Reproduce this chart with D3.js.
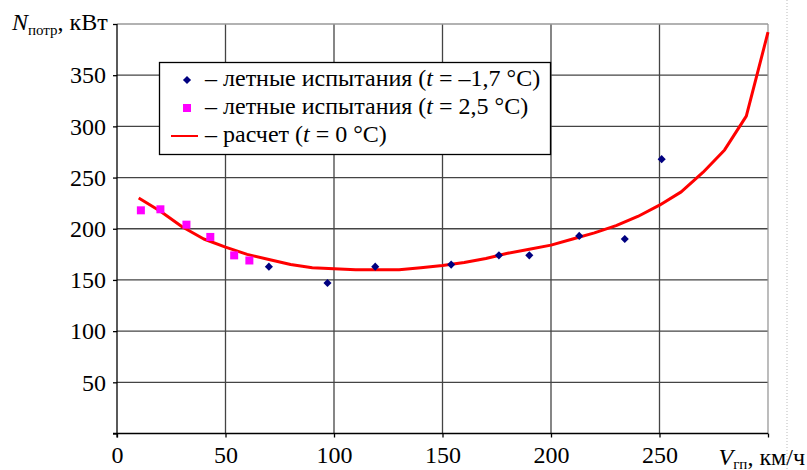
<!DOCTYPE html>
<html>
<head>
<meta charset="utf-8">
<script src="https://cdn.jsdelivr.net/npm/d3@7"></script>
</head>
<body style="margin:0; background:#fff">
<svg id="chart" width="807" height="470" style="font-family:'Liberation Serif'"></svg>
<script>
// flight tests, t = -1.7 °C
const testColdX = [70, 97, 119, 154, 176, 190, 213, 234, 251];
const testColdY = [163, 147, 163, 165, 174, 174, 193, 190, 268];
// flight tests, t = 2.5 °C
const testWarmX = [11, 20, 32, 43, 54, 61];
const testWarmY = [218, 219, 204, 192, 174, 169];
// calculation, t = 0 °C
const calcX = [10, 20, 30, 40, 50, 60, 70, 80, 90, 100, 110, 120, 130, 140, 150,
	160, 170, 180, 190, 200, 210, 220, 230, 240, 250, 260, 270, 280, 290, 300];
const calcY = [230, 217, 202, 190, 182, 175, 170, 165, 162, 161, 160, 160, 160, 162, 164,
	167, 171, 176, 180, 184, 190, 196, 203, 212, 223, 236, 255, 277, 310, 392];

const xTicks = [0, 50, 100, 150, 200, 250];
const yTicks = [50, 100, 150, 200, 250, 300, 350];
const legendLabels = ["летные испытания", "летные испытания", "расчет"];
const legendTemps = ["–1,7 °C", "2,5 °C", "0 °C"];

const svg = d3.select("#chart");
const mLeft = 117, mRight = 768, mTop = 24, mBottom = 433.5;
const serif = "Liberation Serif";
const fs = 24;

const x = d3.scaleLinear().domain([0, 300]).range([mLeft, mRight]);
const y = d3.scaleLinear().domain([0, 400]).range([mBottom, mTop]);

// page edge (dotted)
svg.append("line").attr("x1", 787).attr("x2", 787).attr("y1", 0).attr("y2", 470)
	.attr("stroke", "#bbb").attr("stroke-dasharray", "1,2");

// grid
const grid = svg.append("g");
grid.selectAll("line.h").data(yTicks).enter().append("line")
	.attr("x1", mLeft).attr("x2", mRight)
	.attr("y1", d => y(d)).attr("y2", d => y(d))
	.attr("stroke", "#444").attr("stroke-width", 1.3);
grid.selectAll("line.v").data(xTicks.slice(1)).enter().append("line")
	.attr("x1", d => x(d)).attr("x2", d => x(d))
	.attr("y1", mTop).attr("y2", mBottom)
	.attr("stroke", "#444").attr("stroke-width", 1.3);
// top and right border, lighter
grid.append("line").attr("x1", mLeft).attr("x2", mRight).attr("y1", y(400)).attr("y2", y(400))
	.attr("stroke", "#999").attr("stroke-width", 1.3);
grid.append("line").attr("x1", x(300)).attr("x2", x(300)).attr("y1", mTop).attr("y2", mBottom)
	.attr("stroke", "#999").attr("stroke-width", 1.3);

// axes
const xAxis = svg.append("g").attr("transform", `translate(0,${mBottom})`)
	.call(d3.axisBottom(x).tickValues([0, 50, 100, 150, 200, 250, 300]).tickSize(4).tickSizeOuter(0)
		.tickFormat(d => d === 300 ? "" : d));
xAxis.attr("font-family", serif);
xAxis.select(".domain").attr("d", `M${mLeft - 4},0H${mRight}`).attr("stroke", "#000").attr("stroke-width", 1.3);
xAxis.selectAll(".tick line").attr("stroke", "#000").attr("stroke-width", 1.3);
xAxis.selectAll(".tick text").attr("font-size", fs).attr("y", 29).attr("dy", 0).attr("fill", "#000")
	.style("font-family", serif);

const yAxis = svg.append("g").attr("transform", `translate(${mLeft},0)`)
	.call(d3.axisLeft(y).tickValues([0, 50, 100, 150, 200, 250, 300, 350, 400]).tickSize(4).tickSizeOuter(0)
		.tickFormat(d => (d === 0 || d === 400) ? "" : d));
yAxis.attr("font-family", serif);
yAxis.select(".domain").attr("d", `M0,${mTop}V${mBottom + 4}`).attr("stroke", "#000").attr("stroke-width", 1.3);
yAxis.selectAll(".tick line").attr("stroke", "#000").attr("stroke-width", 1.3);
yAxis.selectAll(".tick text").attr("font-size", fs).attr("x", -11).attr("fill", "#000")
	.style("font-family", serif);

// axis titles
const yt = svg.append("text").attr("x", 12).attr("y", 30).attr("font-size", fs).style("font-family", serif);
yt.append("tspan").attr("font-style", "italic").text("N");
yt.append("tspan").attr("font-size", 15).attr("dy", 5).text("потр");
yt.append("tspan").attr("dy", -5).text(", кВт");

const xt = svg.append("text").attr("x", 805).attr("y", 465).attr("font-size", fs)
	.attr("text-anchor", "end").style("font-family", serif);
xt.append("tspan").attr("font-style", "italic").text("V");
xt.append("tspan").attr("font-size", 15).attr("dy", 4).text("гп");
xt.append("tspan").attr("dy", -4).text(", км/ч");

// calculated curve
const line = d3.line().x(d => x(d[0])).y(d => y(d[1]));
svg.append("path").datum(d3.zip(calcX, calcY)).attr("d", line)
	.attr("fill", "none").attr("stroke", "#ff0000").attr("stroke-width", 3).attr("stroke-linejoin", "round");

// markers
const diamond = d3.symbol().type(d3.symbolDiamond2).size(42);
svg.append("g").selectAll("path").data(d3.zip(testColdX, testColdY)).enter().append("path")
	.attr("d", diamond).attr("transform", d => `translate(${x(d[0])},${y(d[1])})`).attr("fill", "#000080");
svg.append("g").selectAll("rect").data(d3.zip(testWarmX, testWarmY)).enter().append("rect")
	.attr("x", d => x(d[0]) - 4).attr("y", d => y(d[1]) - 4).attr("width", 8).attr("height", 8)
	.attr("fill", "#ff00ff");

// legend
const lg = svg.append("g");
lg.append("rect").attr("x", 159.5).attr("y", 62.5).attr("width", 391).attr("height", 92)
	.attr("fill", "#fff").attr("stroke", "#000").attr("stroke-width", 1.3);
const rows = [80, 108, 136];
lg.append("path").attr("d", diamond).attr("transform", `translate(187,${rows[0]})`).attr("fill", "#000080");
lg.append("rect").attr("x", 183).attr("y", rows[1] - 4).attr("width", 8).attr("height", 8).attr("fill", "#ff00ff");
lg.append("line").attr("x1", 171).attr("x2", 198).attr("y1", rows[2]).attr("y2", rows[2])
	.attr("stroke", "#ff0000").attr("stroke-width", 2);
legendLabels.forEach((lab, i) => {
	const t = lg.append("text").attr("x", 205).attr("y", rows[i] + 6).attr("font-size", fs)
		.style("font-family", serif);
	t.append("tspan").text("– " + lab + " (");
	t.append("tspan").attr("font-style", "italic").text("t");
	t.append("tspan").text(" = " + legendTemps[i] + ")");
});
</script>
</body>
</html>
